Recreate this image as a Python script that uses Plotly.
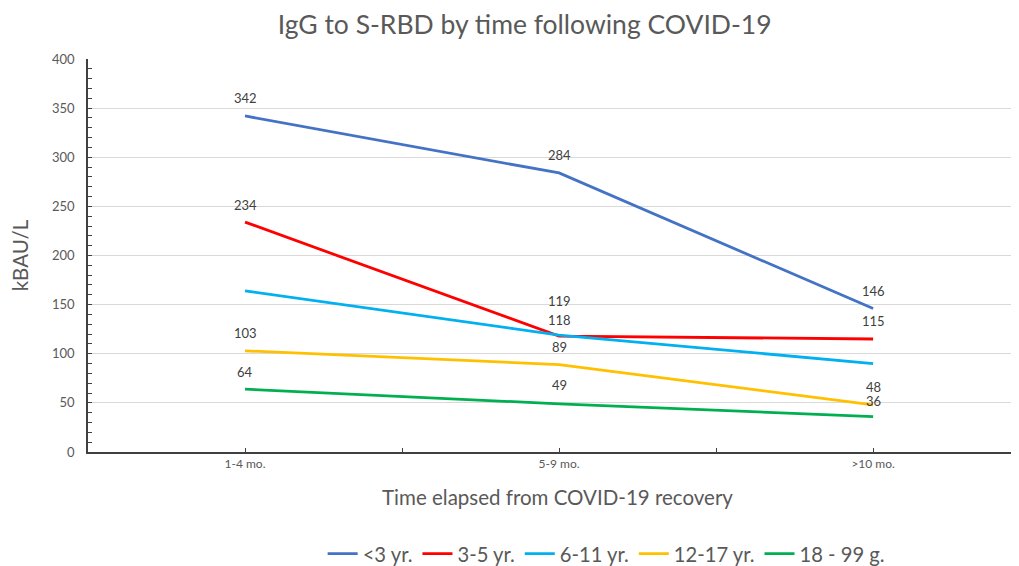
import plotly.graph_objects as go

categories = ["1-4 mo.", "5-9 mo.", ">10 mo."]
series_names = ["<3 yr.", "3-5 yr.", "6-11 yr.", "12-17 yr.", "18 - 99 g."]
values_lt3 = [342, 284, 146]
values_3_5 = [234, 118, 115]
values_6_11 = [164, 119, 90]
values_12_17 = [103, 89, 48]
values_18_99 = [64, 49, 36]
labels_lt3 = ["342", "284", "146"]
labels_3_5 = ["234", "118", "115"]
labels_6_11 = ["", "119", ""]
labels_12_17 = ["103", "89", "48"]
labels_18_99 = ["64", "49", "36"]

colors = ["#4472C4", "#FF0000", "#00B0F0", "#FFC000", "#00B050"]
all_values = [values_lt3, values_3_5, values_6_11, values_12_17, values_18_99]
all_labels = [labels_lt3, labels_3_5, labels_6_11, labels_12_17, labels_18_99]
label_shift = [[18, 18, 18], [17, 16, 18], [0, 34, 0], [18, 18, 18], [17, 19, 16]]

xpos = list(range(len(categories)))

fig = go.Figure()
for name, vals, col in zip(series_names, all_values, colors):
    fig.add_trace(go.Scatter(x=xpos, y=vals, mode="lines", name=name,
                             line=dict(color=col, width=2.8)))

for vals, labs, shifts in zip(all_values, all_labels, label_shift):
    for xi, v, t, s in zip(xpos, vals, labs, shifts):
        if t:
            fig.add_annotation(x=xi, y=v, text=t, showarrow=False, yshift=s,
                               font=dict(size=13, color="#404040", family="Lato"))

fig.update_layout(
    width=1019, height=566,
    margin=dict(l=80, r=0, t=51, b=122, autoexpand=False),
    paper_bgcolor="white", plot_bgcolor="white",
    font=dict(family="Lato", color="#595959"),
    title=dict(text="IgG to S-RBD by time following COVID-19", x=0.507, xanchor="center",
               y=0.97, yanchor="middle", font=dict(size=26.5, color="#595959")),
    legend=dict(orientation="h", xref="container", x=0.587, xanchor="center",
                yref="container", y=-0.012, yanchor="bottom",
                font=dict(size=20.2, color="#595959"), itemwidth=30,
                traceorder="normal"),
    showlegend=True,
)
fig.update_xaxes(range=[-0.5, 2.49], tickvals=xpos, ticktext=categories, automargin=False,
                 showgrid=False, zeroline=False, showline=True, linecolor="#404040",
                 linewidth=1.5, ticks="inside", ticklen=4, tickcolor="#404040",
                 minor=dict(tickmode="linear", tick0=0.5, dtick=1, ticks="inside",
                            ticklen=4, tickcolor="#404040", showgrid=False),
                 tickfont=dict(size=12, color="#595959"),
                 title=dict(text="Time elapsed from COVID-19 recovery", standoff=20,
                            font=dict(size=20.5, color="#595959")))
fig.update_yaxes(range=[0, 400], dtick=50, showgrid=True, gridcolor="#D9D9D9", automargin=False,
                 zeroline=False, showline=True, linecolor="#404040", linewidth=1.5,
                 ticks="inside", ticklen=4, tickcolor="#404040",
                 minor=dict(dtick=10, ticks="inside", ticklen=4, tickcolor="#404040",
                            showgrid=False),
                 tickfont=dict(size=13, color="#595959"), ticklabelstandoff=9,
                 title=dict(text="kBAU/L", standoff=22, font=dict(size=20.5, color="#595959")))

fig.write_html("out.html")
